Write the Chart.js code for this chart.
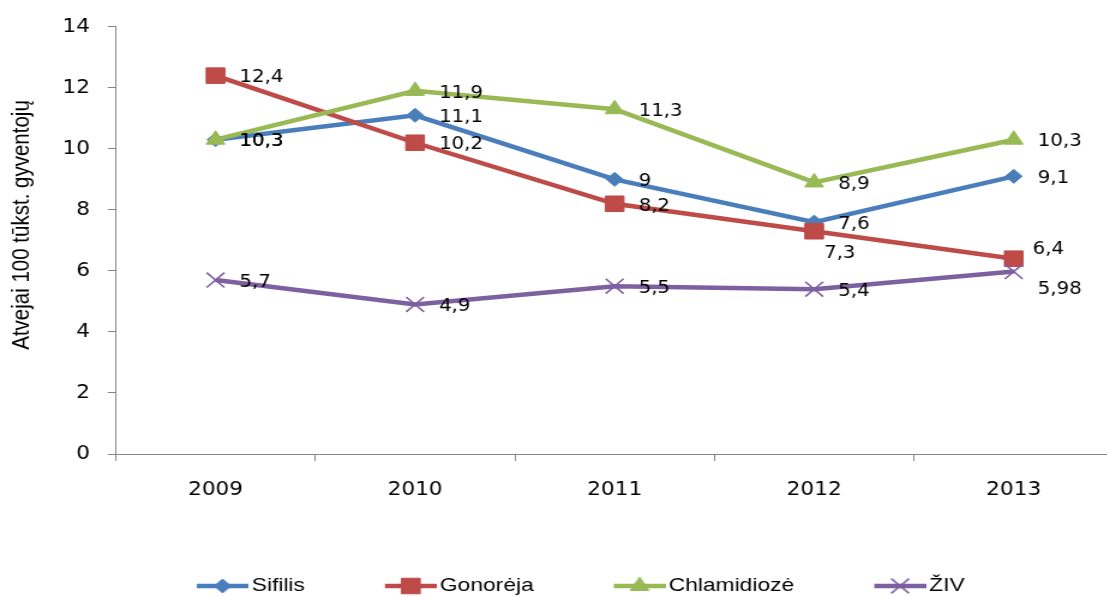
<!DOCTYPE html>
<html><head><meta charset="utf-8">
<script src="https://cdn.jsdelivr.net/npm/chart.js@4/dist/chart.umd.min.js"></script>
<style>
html,body{margin:0;padding:0;background:#fff;overflow:hidden;width:1107px;height:597px}
#wrap{width:940px;height:597px;transform:scaleX(1.2);transform-origin:0 0}
#c{display:block}
</style></head><body>
<div id="wrap"><canvas id="c" width="940" height="597"></canvas></div>
<script>
const categories = ['2009', '2010', '2011', '2012', '2013'];
const seriesNames = ['Sifilis', 'Gonorėja', 'Chlamidiozė', 'ŽIV'];
const sifilis = [10.3, 11.1, 9, 7.6, 9.1];
const gonoreja = [12.4, 10.2, 8.2, 7.3, 6.4];
const chlamidioze = [10.3, 11.9, 11.3, 8.9, 10.3];
const ziv = [5.7, 4.9, 5.5, 5.4, 5.98];
const yTicks = [0, 2, 4, 6, 8, 10, 12, 14];
const yTitle = 'Atvejai 100 tūkst. gyventojų';

const NUM_FONT = '"DejaVu Sans Condensed", "DejaVu Sans", sans-serif';
const TXT_FONT = '"Liberation Sans", Arial, sans-serif';

const styles = [
  {color: '#4A7EBB', point: 'rectRot', r: 7, bw: 1},
  {color: '#BE4B48', point: 'rect', r: 11, bw: 1},
  {color: '#98B954', point: 'triangle', r: 9, bw: 1},
  {color: '#7D60A0', point: 'crossRot', r: 10.5, bw: 1.6}
];
const seriesData = [sifilis, gonoreja, chlamidioze, ziv];

function makeIcon(s) {
  const c = document.createElement('canvas');
  c.width = 50; c.height = 26;
  const g = c.getContext('2d');
  g.strokeStyle = s.color; g.lineWidth = 4.5;
  g.beginPath(); g.moveTo(6.85, 13); g.lineTo(50, 13); g.stroke();
  g.fillStyle = s.color; g.strokeStyle = s.color; g.lineWidth = s.bw;
  Chart.helpers.drawPoint(g, {pointStyle: s.point, radius: s.r, rotation: 0, borderWidth: s.bw}, 28.4, 13);
  return c;
}
const icons = styles.map(makeIcon);

const labelOffsets = {'1-3': {dx: 8.2, dy: 22}, '1-4': {dx: 15.7, dy: -9}, '3-4': {dx: 20, dy: 18}};
const dataLabels = {
  id: 'dataLabels',
  afterDatasetsDraw(chart) {
    const ctx = chart.ctx;
    ctx.save();
    ctx.font = '18.3px ' + NUM_FONT;
    ctx.fillStyle = '#000'; ctx.textAlign = 'left'; ctx.textBaseline = 'middle';
    chart.data.datasets.forEach((ds, di) => {
      const meta = chart.getDatasetMeta(di);
      meta.data.forEach((pt, i) => {
        const o = labelOffsets[di + '-' + i] || {dx: 20, dy: 2};
        ctx.fillText(String(ds.data[i]).replace('.', ','), pt.x + o.dx, pt.y + o.dy);
      });
    });
    ctx.restore();
  }
};
const yTitlePlugin = {
  id: 'yTitle',
  afterDraw(chart) {
    const ctx = chart.ctx;
    ctx.save();
    ctx.font = '20.5px ' + TXT_FONT;
    ctx.fillStyle = '#000'; ctx.textAlign = 'center'; ctx.textBaseline = 'alphabetic';
    ctx.translate(23.6, 225); ctx.rotate(-Math.PI / 2);
    ctx.fillText(yTitle, 0, 0);
    ctx.restore();
  }
};

new Chart(document.getElementById('c'), {
  type: 'line',
  data: {
    labels: categories,
    datasets: seriesNames.map((name, i) => ({
      label: name,
      data: seriesData[i],
      borderColor: styles[i].color,
      backgroundColor: styles[i].color,
      borderWidth: 4.5,
      tension: 0,
      pointStyle: styles[i].point,
      pointRadius: styles[i].r,
      pointHoverRadius: styles[i].r,
      pointBackgroundColor: styles[i].color,
      pointBorderColor: styles[i].color,
      pointBorderWidth: styles[i].bw,
      order: 3 - i,
      clip: false
    }))
  },
  options: {
    responsive: false,
    maintainAspectRatio: false,
    devicePixelRatio: 1,
    animation: false,
    events: [],
    layout: {padding: {left: 31.7, right: 3.9, top: 24, bottom: -8.5}},
    plugins: {
      tooltip: {enabled: false},
      title: {display: false},
      legend: {
        position: 'bottom',
        align: 'center',
        labels: {
          usePointStyle: true,
          pointStyleWidth: 36.3,
          boxHeight: 19,
          padding: 66.7,
          color: '#000',
          font: {family: TXT_FONT, size: 19},
          sort: (a, b) => a.datasetIndex - b.datasetIndex,
          generateLabels(chart) {
            const items = Chart.defaults.plugins.legend.labels.generateLabels(chart);
            items.forEach(it => { it.pointStyle = icons[it.datasetIndex]; });
            return items;
          }
        }
      }
    },
    scales: {
      x: {
        type: 'category',
        offset: true,
        grid: {display: true, drawOnChartArea: false, drawTicks: true, tickLength: 7, color: '#868686', offset: true},
        border: {display: true, color: '#868686', width: 1},
        ticks: {color: '#000', font: {family: NUM_FONT, size: 20}, padding: 17, maxRotation: 0, autoSkip: false},
        afterFit(s) { s.height = 55.8; }
      },
      y: {
        min: yTicks[0],
        max: yTicks[yTicks.length - 1],
        grid: {display: true, drawOnChartArea: false, drawTicks: true, tickLength: 6.7, color: '#868686'},
        border: {display: true, color: '#868686', width: 1},
        ticks: {stepSize: yTicks[1] - yTicks[0], color: '#000', font: {family: NUM_FONT, size: 20}, padding: 14.8},
        afterFit(s) { s.width = 64.76; }
      }
    }
  },
  plugins: [dataLabels, yTitlePlugin]
});
</script>
</body></html>
